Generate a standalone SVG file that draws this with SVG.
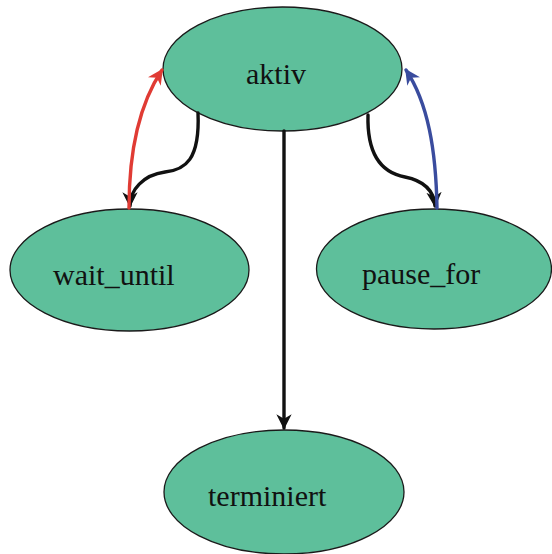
<svg xmlns="http://www.w3.org/2000/svg" width="552" height="554" viewBox="0 0 552 554">
  <defs>
    <style>
      .state { fill: #5ebf9b; stroke: #1a1a1a; stroke-width: 1.3; }
      .label { font-family: "Liberation Serif", "Times New Roman", serif; font-size: 30px; fill: #111; }
      .edge { fill: none; stroke-width: 3.4; stroke-linecap: round; }
      .black { stroke: #111; }
      .red { stroke: #e03b34; }
      .blue { stroke: #3a4c9e; }
    </style>
    <marker id="ahBlack" viewBox="0 0 10 10" refX="9" refY="5" markerWidth="4.5" markerHeight="4.5" orient="auto" markerUnits="strokeWidth">
      <path d="M0,0 L10,5 L0,10 L3,5 z" fill="#111"/>
    </marker>
    <marker id="ahRed" viewBox="0 0 10 10" refX="9" refY="5" markerWidth="4.5" markerHeight="4.5" orient="auto" markerUnits="strokeWidth">
      <path d="M0,0 L10,5 L0,10 L3,5 z" fill="#e03b34"/>
    </marker>
    <marker id="ahBlue" viewBox="0 0 10 10" refX="9" refY="5" markerWidth="4.5" markerHeight="4.5" orient="auto" markerUnits="strokeWidth">
      <path d="M0,0 L10,5 L0,10 L3,5 z" fill="#3a4c9e"/>
    </marker>
  </defs>

  <rect width="552" height="554" fill="#ffffff"/>

  <g id="node-aktiv">
    <ellipse class="state" cx="282.5" cy="69" rx="119.5" ry="62"/>
    <text class="label" x="246" y="84">aktiv</text>
  </g>
  <g id="node-wait_until">
    <ellipse class="state" cx="129.5" cy="270" rx="119.5" ry="61"/>
    <text class="label" x="53" y="285">wait_until</text>
  </g>
  <g id="node-pause_for">
    <ellipse class="state" cx="434" cy="269" rx="117.5" ry="60"/>
    <text class="label" x="362" y="284">pause_for</text>
  </g>
  <g id="node-terminiert">
    <ellipse class="state" cx="284" cy="492" rx="120" ry="62"/>
    <text class="label" x="208" y="506">terminiert</text>
  </g>

  <g id="connectors">
    <path class="edge black" d="M198,113 C200,160 185,170 165,172 C143,175 130,190 130,206" marker-end="url(#ahBlack)"/>
    <path class="edge red" d="M129,208 C129,150 140,103 162,70" marker-end="url(#ahRed)"/>
    <path class="edge black" d="M368,115 C367,150 378,172 405,177 C425,181 434,192 435,206" marker-end="url(#ahBlack)"/>
    <path class="edge blue" d="M437,208 C436,150 428,103 406,70" marker-end="url(#ahBlue)"/>
    <path class="edge black" d="M284,131 L284,428" marker-end="url(#ahBlack)"/>
  </g>
</svg>
